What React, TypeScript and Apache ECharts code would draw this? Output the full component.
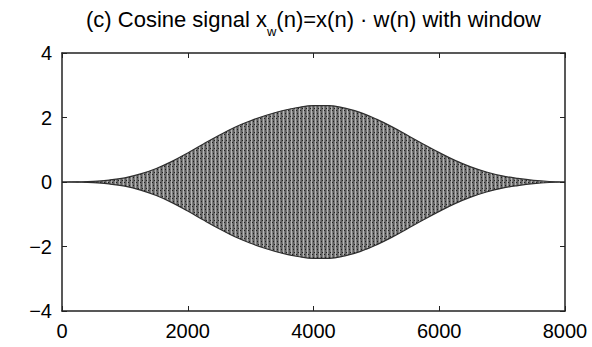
import React, { useEffect, useRef } from "react";
import * as echarts from "echarts";

// Sample index n and the envelope |x_w(n)| of the windowed cosine at that index
const sampleIndex = [
  0, 250, 500, 750, 1000, 1250, 1500, 1750, 2000, 2250, 2500, 2750, 3000, 3250,
  3500, 3750, 4000, 4250, 4500, 4750, 5000, 5250, 5500, 5750, 6000, 6250, 6500,
  6750, 7000, 7250, 7500, 7750, 8000,
];
const envelope = [
  0, 0.005, 0.02, 0.06, 0.13, 0.25, 0.42, 0.64, 0.9, 1.18, 1.45, 1.7, 1.9,
  2.07, 2.21, 2.31, 2.37, 2.37, 2.29, 2.15, 1.95, 1.71, 1.44, 1.17, 0.91, 0.67,
  0.47, 0.31, 0.19, 0.11, 0.05, 0.015, 0,
];

// Axis ranges
const xRange = { min: 0, max: 8000, interval: 2000 };
const yRange = { min: -4, max: 4, interval: 2 };

const titleText = {
  lead: "(c) Cosine signal x",
  sub: "w",
  tail: "(n)=x(n) · w(n) with window",
};

const FONT = "'Liberation Sans', Arial, Helvetica, sans-serif";
const FRAME = "#222222";
const EDGE = "#2e2e2e";

// Small tile that gives the dense oscillation its striped grey look
function makeTexture(): string {
  const c = document.createElement("canvas");
  c.width = 4;
  c.height = 8;
  const ctx = c.getContext("2d")!;
  ctx.fillStyle = "#7c7c7c";
  ctx.fillRect(0, 0, 4, 8);
  ctx.fillStyle = "#b4b4b4";
  ctx.fillRect(3, 0, 1, 8);
  ctx.fillStyle = "#5c5c5c";
  ctx.fillRect(1, 0, 1, 8);
  ctx.fillStyle = "#202020";
  ctx.fillRect(1, 1, 1, 1);
  ctx.fillRect(2, 4, 1, 1);
  ctx.fillRect(0, 6, 1, 1);
  return c.toDataURL();
}

const fmtY = (v: number) => (v < 0 ? "\u2212" + Math.abs(v) : String(v));

export default function App() {
  const ref = useRef<HTMLDivElement>(null);

  useEffect(() => {
    if (!ref.current) return;
    const chart = echarts.init(ref.current, null, { renderer: "svg" });

    const upper = sampleIndex.map((n, i) => [n, envelope[i]]);
    const lower = sampleIndex.map((n, i) => [n, -envelope[i]]);

    const axisLine = { show: true, onZero: false, lineStyle: { color: FRAME, width: 1.5 } };
    const axisTick = { show: true, inside: true, length: 5, lineStyle: { color: FRAME, width: 1 } };
    const label = { color: "#000", fontSize: 20, fontFamily: FONT };

    chart.setOption({
      animation: false,
      backgroundColor: "#ffffff",
      grid: { left: 62, right: 27, top: 53, bottom: 36, outerBoundsMode: "none" },
      graphic: [
        {
          type: "text",
          x: 313.5,
          y: 8,
          style: {
            text: `{a|${titleText.lead}}{s|${titleText.sub}}{a|${titleText.tail}}`,
            align: "center",
            verticalAlign: "top",
            fill: "#000",
            font: `22px ${FONT}`,
            rich: {
              a: { fontSize: 22, fontFamily: FONT, lineHeight: 22, verticalAlign: "top", fill: "#000" },
              s: { fontSize: 13, fontFamily: FONT, lineHeight: 30, verticalAlign: "bottom", fill: "#000" },
            },
          },
        },
      ],
      xAxis: [
        {
          type: "value",
          position: "bottom",
          ...xRange,
          z: 10,
          axisLine,
          axisTick,
          axisLabel: { ...label, margin: 10, formatter: (v: number) => String(v) },
          splitLine: { show: false },
        },
        {
          type: "value",
          position: "top",
          ...xRange,
          z: 10,
          axisLine,
          axisTick,
          axisLabel: { show: false },
          splitLine: { show: false },
        },
      ],
      yAxis: [
        {
          type: "value",
          position: "left",
          ...yRange,
          z: 10,
          axisLine,
          axisTick,
          axisLabel: { ...label, margin: 10, formatter: fmtY },
          splitLine: { show: false },
        },
        {
          type: "value",
          position: "right",
          ...yRange,
          z: 10,
          axisLine,
          axisTick,
          axisLabel: { show: false },
          splitLine: { show: false },
        },
      ],
      series: [
        {
          // textured body of the signal, from the upper envelope down
          type: "line",
          name: "x_w(n)",
          data: upper,
          symbol: "none",
          smooth: 0.4,
          lineStyle: { width: 0 },
          areaStyle: {
            origin: "start",
            opacity: 1,
            color: { image: makeTexture(), repeat: "repeat", imageWidth: 4, imageHeight: 8 },
          },
          z: 2,
        },
        {
          // lower envelope; clears everything beneath it
          type: "line",
          name: "lower envelope",
          data: lower,
          symbol: "none",
          smooth: 0.4,
          lineStyle: { color: EDGE, width: 1.2 },
          areaStyle: { origin: "start", opacity: 1, color: "#ffffff" },
          z: 3,
        },
        {
          type: "line",
          name: "upper envelope",
          data: upper,
          symbol: "none",
          smooth: 0.4,
          lineStyle: { color: EDGE, width: 1.2 },
          z: 4,
        },
      ],
    });

    return () => chart.dispose();
  }, []);

  return <div ref={ref} style={{ width: 592, height: 347, position: "absolute", left: 0, top: 0 }} />;
}
